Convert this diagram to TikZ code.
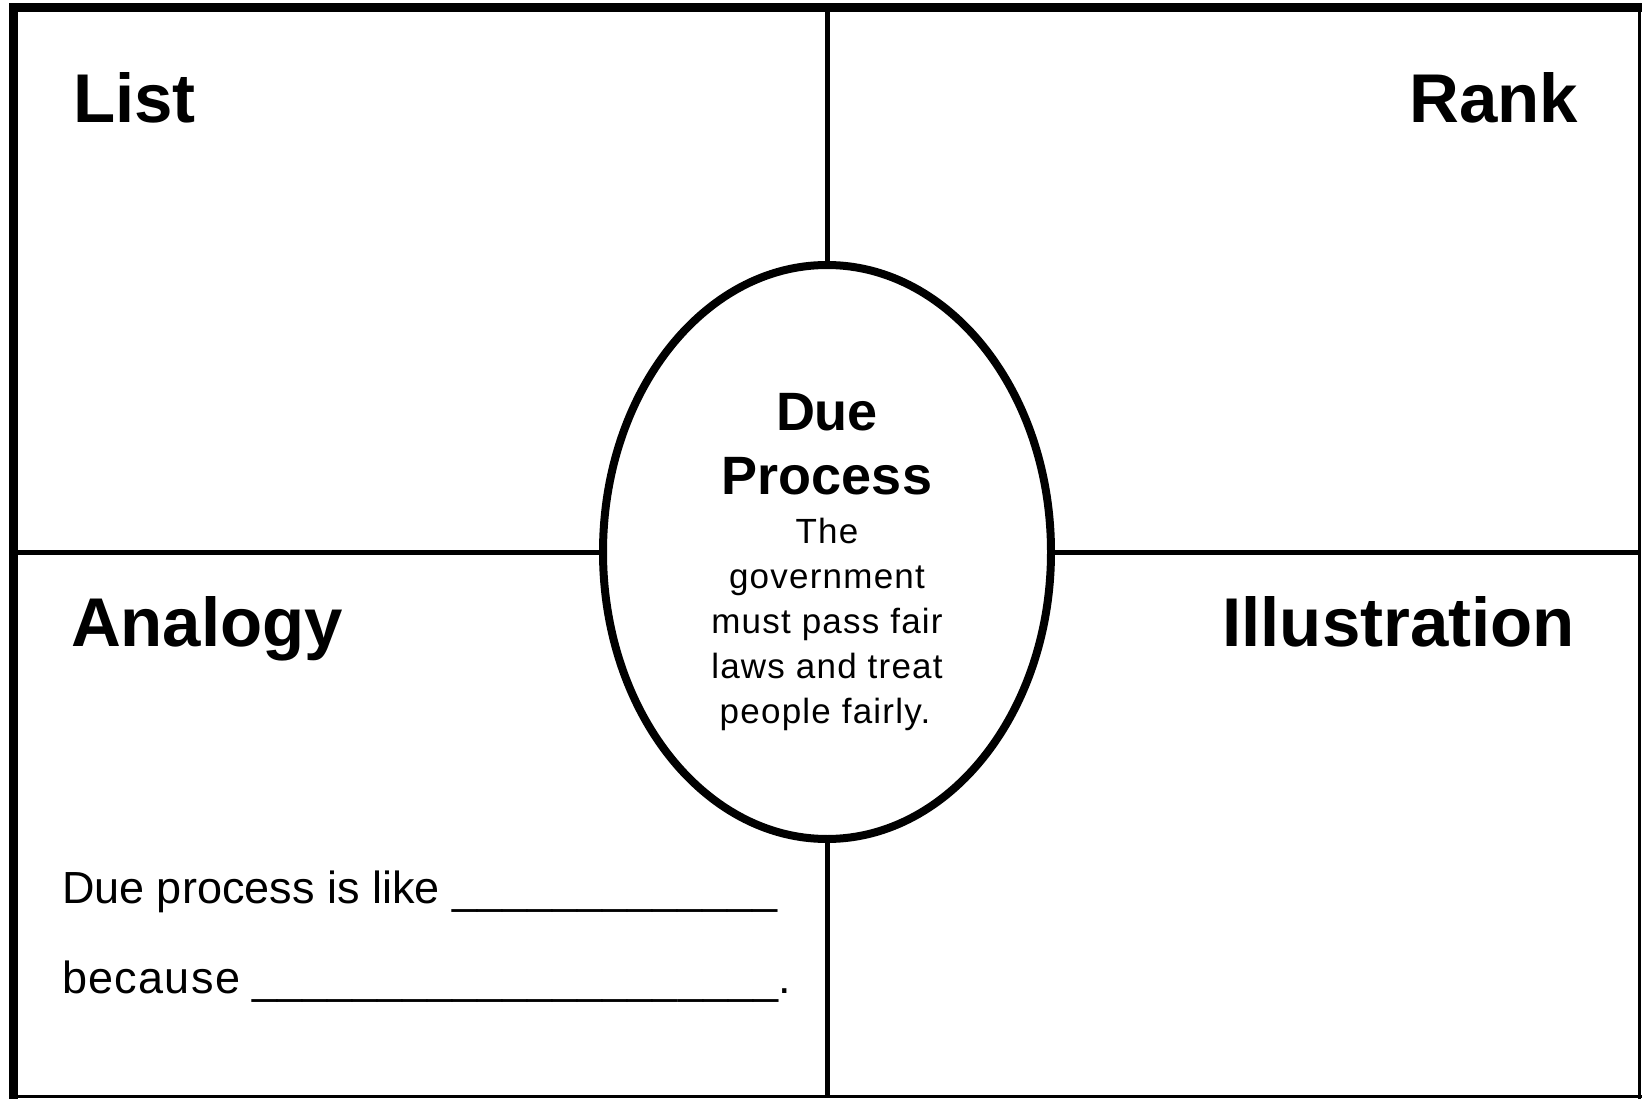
\documentclass[tikz,border=0pt]{standalone}
\usepackage{fontspec}
\setmainfont{Liberation Sans}
\usetikzlibrary{shapes.geometric}
\begin{document}
\begin{tikzpicture}[x=1pt,y=-1pt,
  head/.style={inner sep=0pt, outer sep=0pt, font=\fontsize{69}{80}\selectfont\bfseries},
  title/.style={inner sep=0pt, outer sep=0pt, anchor=base, font=\fontsize{54}{64}\selectfont\bfseries},
  desc/.style={inner sep=0pt, outer sep=0pt, anchor=base, font=\fontsize{35}{45}\selectfont\addfontfeature{LetterSpace=3.5}},
  blank/.style={inner sep=0pt, outer sep=0pt, font=\fontsize{45}{54}\selectfont},
  framethick/.style={line width=9pt},
  framethin/.style={line width=3pt},
  divider/.style={line width=5pt},
  oval/.style={ellipse, draw, fill=white, line width=8pt, inner sep=0pt, outer sep=0pt,
    minimum width=448pt, minimum height=574pt}]
\useasboundingbox (0,0) rectangle (1642,1099);
\fill[white] (0,0) rectangle (1642,1099);
% frame corners
\coordinate (fTLa) at (13.5,1099);
\coordinate (fTL) at (13.5,7.5);
\coordinate (fTR) at (1642,7.5);
\coordinate (fRa) at (1639.5,3);
\coordinate (fRb) at (1639.5,1099);
\coordinate (fBa) at (9,1096);
\coordinate (fBb) at (1642,1096);
% divider ends
\coordinate (vTop) at (827,12);
\coordinate (vBot) at (827,1095);
\coordinate (hL) at (18,552);
\coordinate (hR) at (1638,552);
% central oval
\node[oval] (E) at (827,552) {};
\draw[divider] (vTop) -- (E.north);
\draw[divider] (E.south) -- (vBot);
\draw[divider] (hL) -- (E.west);
\draw[divider] (E.east) -- (hR);
\draw[framethick] (fTLa) -- (fTL) -- (fTR);
\draw[framethin] (fRa) -- (fRb);
\draw[framethin] (fBa) -- (fBb);
% headings
\node[head, anchor=base west] (list) at (73,123) {List};
\node[head, anchor=base east] (rank) at (1578,123) {Rank};
\node[head, anchor=base west] (analogy) at (71,646) {Analogy};
\node[head, anchor=base east] (illus) at (1575,646) {Illustration};
% oval text
\node[title] (dp1) at (827,430) {Due};
\node[title] (dp2) at (827,494) {Process};
\node[desc] (d1) at (827,543) {The};
\node[desc] (d2) at (827,588) {government};
\node[desc] (d3) at (827,633) {must pass fair};
\node[desc] (d4) at (827,678) {laws and treat};
\node[desc] (d5) at (825,723) {people fairly.};
% analogy prompt
\node[blank, anchor=base west] (like) at (62,903) {Due process is like \_\_\_\_\_\_\_\_\_\_\_\_\_};
\node[blank, anchor=base west] (because) at (62,993) {{\addfontfeature{LetterSpace=3}because} \_\_\_\_\_\_\_\_\_\_\_\_\_\_\_\_\_\_\_\_\_.};
\end{tikzpicture}
\end{document}
